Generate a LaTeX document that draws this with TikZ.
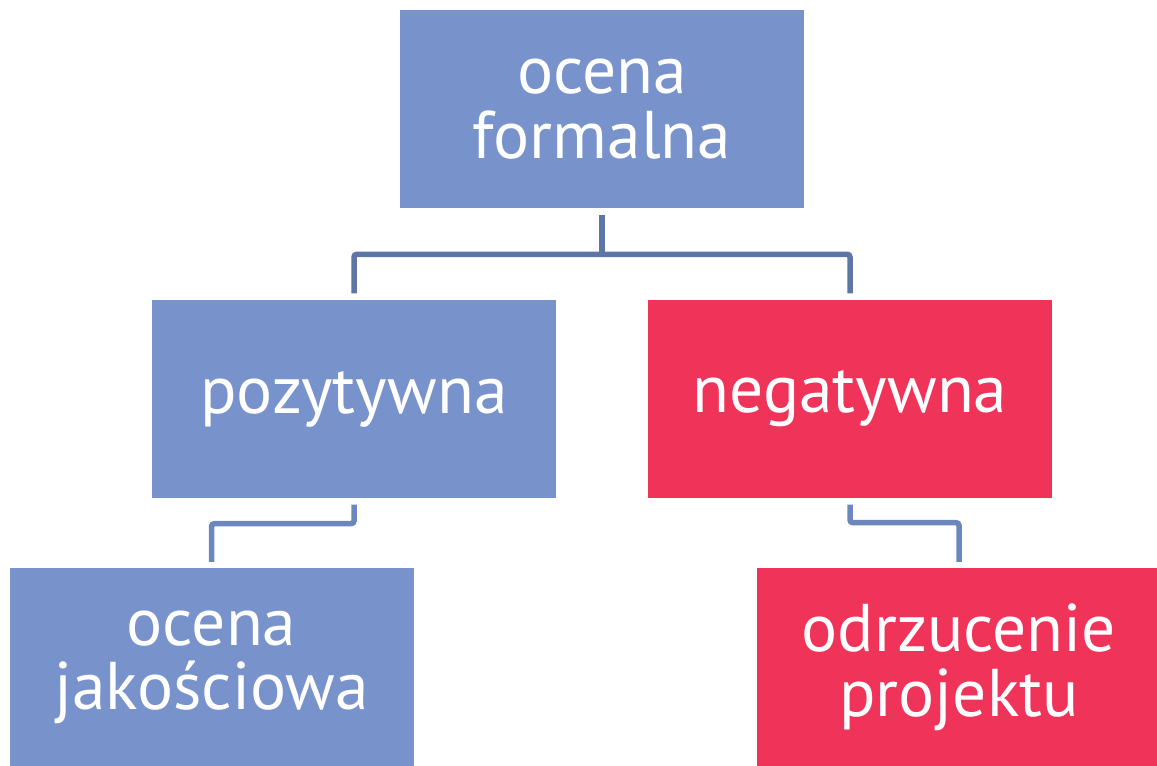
\documentclass[tikz,border=0pt]{standalone}
\usepackage{fontspec}
\setmainfont{PT Sans}
\usetikzlibrary{positioning}
\definecolor{boxblue}{HTML}{7893CB}
\definecolor{boxred}{HTML}{F03358}
\definecolor{linkdark}{HTML}{5E76A6}
\definecolor{linklight}{HTML}{6C87BE}
\begin{document}
\begin{tikzpicture}[
    box/.style={minimum width=4.04cm,minimum height=1.98cm,inner sep=0pt,
      text=white,align=center,font=\fontsize{19.2}{18.4}\selectfont},
    bluebox/.style={box,fill=boxblue},
    redbox/.style={box,fill=boxred},
    link/.style={line width=0.055cm,rounded corners=0.8pt,
      shorten <=0.06cm,shorten >=0.06cm}]
    \useasboundingbox (0,0) rectangle (11.57,7.66);% the frame of the reference
    \node[bluebox] (formalna) at (6.02,6.57) {ocena\\formalna};
    \node[bluebox] (pozytywna) at (3.54,3.67) {pozytywna};
    \node[redbox] (negatywna) at (8.50,3.67) {negatywna};
    \node[bluebox] (jakosciowa) at (2.115,0.985) {ocena\\jakościowa};
    \node[redbox] (odrzucenie) at (9.59,0.985) {odrzucenie\\projektu};
    % links between the levels
    \draw[link,linkdark] (formalna.south) -- ++(0,-0.50);
    \draw[link,linkdark] (pozytywna.north) -- ++(0,0.45) -| (negatywna.north);
    \draw[link,linklight] (pozytywna.south) -- ++(0,-0.25) -| (jakosciowa.north);
    \draw[link,linklight] (negatywna.south) -- ++(0,-0.24) -| (odrzucenie.north);
\end{tikzpicture}
\end{document}
